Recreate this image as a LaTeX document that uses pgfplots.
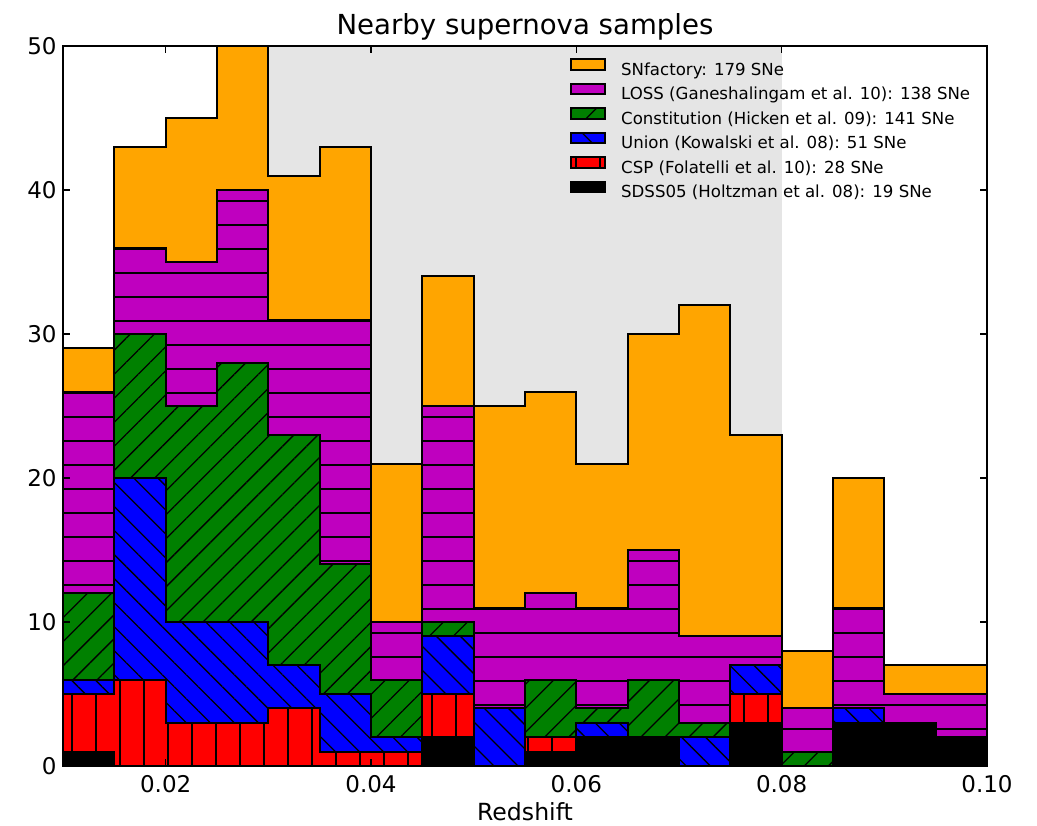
\documentclass[border=0pt]{standalone}
\usepackage{fontspec}
\setmainfont{DejaVu Sans}
\usepackage{pgfplots}
\usepackage{pgfplotstable}
\pgfplotsset{compat=1.18}
\usetikzlibrary{patterns.meta}

\definecolor{snfOrange}{HTML}{FFA500}
\definecolor{lossMagenta}{HTML}{BF00BF}
\definecolor{constGreen}{HTML}{008000}
\definecolor{unionBlue}{HTML}{0000FF}
\definecolor{cspRed}{HTML}{FF0000}
\definecolor{bandGray}{HTML}{E5E5E5}

% hatch drawn over the fill colour: angle and line spacing
\tikzset{hatch/.style 2 args={postaction={pattern={Lines[angle=#1,distance=#2,line width=0.65pt]},pattern color=black}}}

% SNe per redshift bin of width 0.005 (left bin edge); the last row closes the final bin
\pgfplotstableread{
z      sdss csp union const loss snf
0.010  1    4   1     6     14   3
0.015  0    6   14    10    6    7
0.020  0    3   7     15    10   10
0.025  0    3   7     18    12   10
0.030  0    4   3     16    8    10
0.035  0    1   4     9     17   12
0.040  0    1   1     4     4    11
0.045  2    3   4     1     15   9
0.050  0    0   4     0     7    14
0.055  1    1   0     4     6    14
0.060  2    0   1     1     7    10
0.065  2    0   0     4     9    15
0.070  0    0   2     1     6    23
0.075  3    2   2     0     2    14
0.080  0    0   0     1     3    4
0.085  3    0   1     0     7    9
0.090  3    0   0     0     2    2
0.095  2    0   0     0     3    2
0.100  2    0   0     0     3    2
}\bins

\pgfplotsset{frame/.style={scale only axis, width=462pt, height=360pt,
  xmin=0.01, xmax=0.10, ymin=0, ymax=50}}

\begin{document}
\begin{tikzpicture}
\path[use as bounding box] (-31.5pt,-29.5pt) rectangle (487pt,383pt);
% redshift range shaded behind the histogram
\begin{axis}[frame, hide axis]
\fill[bandGray] (axis cs:0.03,0) rectangle (axis cs:0.08,50);
\end{axis}
\begin{axis}[
  frame,
  stack plots=y,
  const plot,
  axis on top,
  axis line style={line width=1pt},
  tick style={line width=0.8pt, black},
  tick align=inside,
  major tick length=3.5pt,
  xtick={0.02,0.04,0.06,0.08,0.10},
  xticklabels={0.02,0.04,0.06,0.08,0.10},
  ytick={0,10,20,30,40,50},
  /pgf/number format/assume math mode=true,
  tick label style={font=\fontsize{11.5}{13}\selectfont},
  xticklabel style={anchor=base, yshift=-13.35pt},
  yticklabel style={anchor=east, inner sep=0pt, xshift=-3pt},
  title={Nearby supernova samples},
  title style={font=\fontsize{13.8}{16}\selectfont, at={(axis description cs:0.5,1)}, anchor=base, yshift=0pt},
  xlabel={Redshift},
  xlabel style={font=\fontsize{11.8}{14}\selectfont, at={(axis description cs:0.5,0)}, anchor=base, yshift=-27pt},
  every axis plot/.append style={draw=black, line width=1pt, mark=none},
  reverse legend,
  legend cell align=left,
  legend style={draw=none, fill=none, at={(axis cs:0.0594,49.14)}, anchor=north west,
    inner sep=0pt, outer sep=0pt, row sep=2.0pt, column sep=7.5pt,
    nodes={inner sep=0pt, text height=6.1pt, text depth=1.8pt, font=\fontsize{8.3}{10}\selectfont}},
  legend image code/.code={\draw[#1] (0pt,0.6pt) rectangle (17pt,5.8pt);},
]
\addplot[fill=black] table[x=z, y=sdss] {\bins} \closedcycle;
\addlegendentry{SDSS05 (Holtzman et al. 08): 19 SNe}
\addplot[fill=cspRed, hatch={90}{12pt}] table[x=z, y=csp] {\bins} \closedcycle;
\addlegendentry{CSP (Folatelli et al. 10): 28 SNe}
\addplot[fill=unionBlue, hatch={-45}{8.5pt}] table[x=z, y=union] {\bins} \closedcycle;
\addlegendentry{Union (Kowalski et al. 08): 51 SNe}
\addplot[fill=constGreen, hatch={45}{8.5pt}] table[x=z, y=const] {\bins} \closedcycle;
\addlegendentry{Constitution (Hicken et al. 09): 141 SNe}
\addplot[fill=lossMagenta, hatch={0}{12pt}] table[x=z, y=loss] {\bins} \closedcycle;
\addlegendentry{LOSS (Ganeshalingam et al. 10): 138 SNe}
\addplot[fill=snfOrange] table[x=z, y=snf] {\bins} \closedcycle;
\addlegendentry{SNfactory: 179 SNe}
\end{axis}
\end{tikzpicture}
\end{document}
